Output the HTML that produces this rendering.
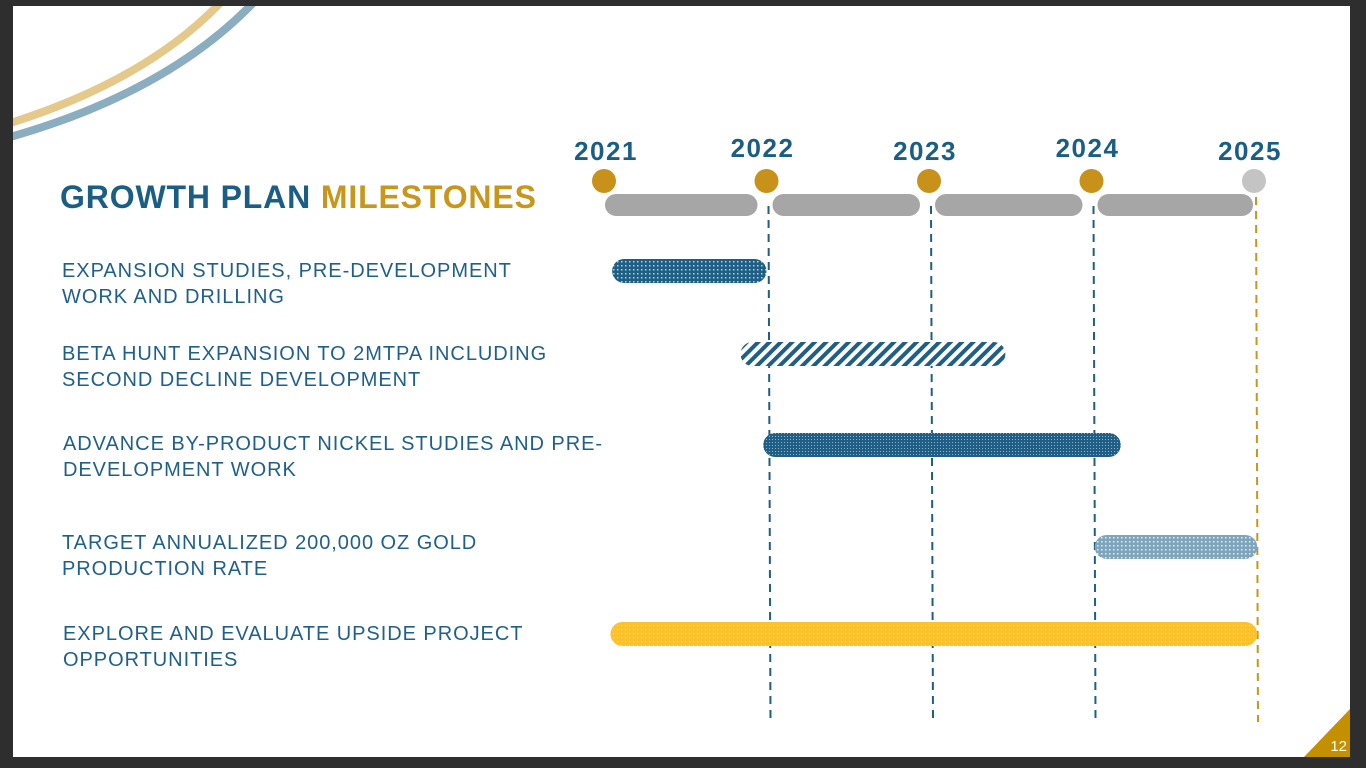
<!DOCTYPE html>
<html><head><meta charset="utf-8"><style>
body{margin:0;width:1366px;height:768px;background:#2e2e2e;overflow:hidden;font-family:"Liberation Sans",Arial,sans-serif}
#slide{position:absolute;left:13px;top:6px;width:1337px;height:751px;background:#fff;overflow:hidden}
.lbl{position:absolute;color:#1f5f8b;font-size:20px;letter-spacing:0.95px;line-height:26px;white-space:nowrap}
</style></head><body>
<div id="slide"></div>
<svg width="1366" height="768" style="position:absolute;left:0;top:0">
<defs>
<clipPath id="sc"><rect x="13" y="6" width="1337" height="751"/></clipPath>
<pattern id="pDots" width="4" height="4" patternUnits="userSpaceOnUse"><rect width="4" height="4" fill="#1f5f85"/><rect x="1" y="1" width="1.5" height="1.5" fill="#b8cfdd"/></pattern>
<pattern id="pDotsL" width="4" height="4" patternUnits="userSpaceOnUse"><rect width="4" height="4" fill="#7fa5bd"/><rect x="1" y="1" width="1.5" height="1.5" fill="#e6eef3"/></pattern>
<pattern id="pDense" width="3" height="3" patternUnits="userSpaceOnUse"><rect width="3" height="3" fill="#1f5f85"/><rect x="1" y="1" width="1" height="1" fill="#8fb0c6"/></pattern>
<pattern id="pStripe" width="8" height="8" patternUnits="userSpaceOnUse" patternTransform="rotate(45)"><rect width="8" height="8" fill="#fff"/><rect width="4" height="8" fill="#1f5f85"/></pattern>
<pattern id="pGold" width="4" height="4" patternUnits="userSpaceOnUse"><rect width="4" height="4" fill="#fbc22c"/><rect x="1" y="1" width="1" height="1" fill="#fde49a"/></pattern>
</defs>
<g clip-path="url(#sc)">
<path d="M -20 132 Q 150 85 232 -10" fill="none" stroke="#e5c98a" stroke-width="8"/>
<path d="M -20 145 Q 170 98 265 -10" fill="none" stroke="#8badc0" stroke-width="8"/>
</g>
<text x="60" y="208" font-size="32" font-weight="bold" letter-spacing="0.85" fill="#1b5e85" font-family="Liberation Sans,sans-serif">GROWTH PLAN <tspan fill="#c8961a">MILESTONES</tspan></text>
<g id="chart"></g>
<polygon points="1304,757 1350,757 1350,709" fill="#c49000"/>
<text x="1347" y="751" font-size="15" fill="#fff" text-anchor="end" font-family="Liberation Sans,sans-serif">12</text>
</svg>
<div class="lbl" style="left:62px;top:258px">EXPANSION STUDIES, PRE-DEVELOPMENT<br>WORK AND DRILLING</div>
<div class="lbl" style="left:62px;top:341px">BETA HUNT EXPANSION TO 2MTPA INCLUDING<br>SECOND DECLINE DEVELOPMENT</div>
<div class="lbl" style="left:63px;top:431px">ADVANCE BY-PRODUCT NICKEL STUDIES AND PRE-<br>DEVELOPMENT WORK</div>
<div class="lbl" style="left:62px;top:530px">TARGET ANNUALIZED 200,000 OZ GOLD<br>PRODUCTION RATE</div>
<div class="lbl" style="left:63px;top:621px">EXPLORE AND EVALUATE UPSIDE PROJECT<br>OPPORTUNITIES</div>
<script>
const years=[2021,2022,2023,2024,2025];
const yearDone=[true,true,true,true,false];
const taskStarts=[2021.05,2021.84,2021.98,2024.02,2021.04];
const taskEnds=[2022.0,2023.47,2024.18,2025.02,2025.02];
const taskFills=['pDots','pStripe','pDense','pDotsL','pGold'];
const NS='http://www.w3.org/2000/svg';
const X=y=>604+(y-2021)*162.5;
const rowY=i=>271+[0,83,174,276,363][i];
const g=document.getElementById('chart');
function mk(t,a){const e=document.createElementNS(NS,t);for(const k in a)e.setAttribute(k,a[k]);g.appendChild(e);return e;}
for(let i=0;i<years.length-1;i++){
 const x0=X(years[i])+(i==0?1:6), x1=X(years[i+1])-(i==years.length-2?1:9);
 const r=mk('rect',{x:x0,y:194,width:x1-x0,height:22,rx:11,fill:'#a6a6a6'});
 
 
}
years.forEach((y,i)=>{
 if(i==0)return;
 const last=i==years.length-1;
 const l=mk('line',{x1:X(y)+2,y1:last?197:206,x2:X(y)+4,y2:722,stroke:last?'#c8961a':'#1f5f85','stroke-width':2,'stroke-dasharray':'8,6'});
 
 
});
taskStarts.forEach((s,i)=>{
 const x0=X(s),x1=X(taskEnds[i]);
 const r=mk('rect',{x:x0,y:rowY(i)-12,width:x1-x0,height:24,rx:12,fill:'url(#'+taskFills[i]+')'});
 
 
});
years.forEach((y,i)=>{
 const c=mk('circle',{cx:X(y),cy:181,r:12,fill:yearDone[i]?'#c8921a':'#c4c4c4'});
 
 
 const t=mk('text',{x:X(y)+(i==0?2:-4),y:i%2?157:160,'font-size':26,'font-weight':'bold','letter-spacing':1.5,fill:'#1b5e85','text-anchor':'middle','font-family':'Liberation Sans,sans-serif'});
 t.textContent=y;
 
 
});
</script>
</body></html>
